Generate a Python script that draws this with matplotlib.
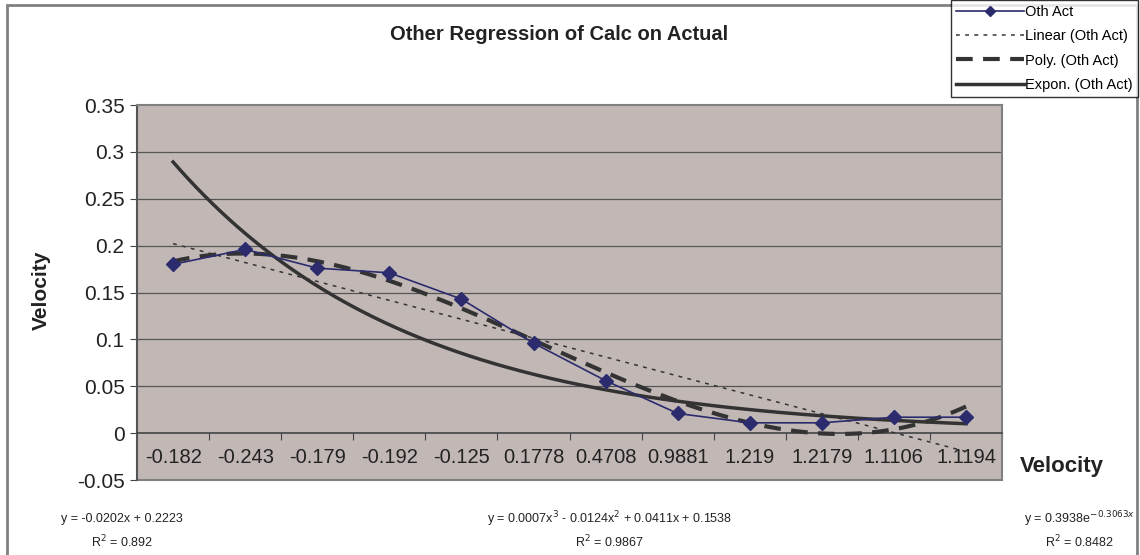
import numpy as np
import matplotlib.pyplot as plt
from matplotlib.lines import Line2D
from matplotlib.patches import Rectangle

plt.rcParams['font.family'] = ['Liberation Sans', 'DejaVu Sans']

# categories (shown as x tick labels) and the measured series
categories = ['-0.182', '-0.243', '-0.179', '-0.192', '-0.125', '0.1778',
              '0.4708', '0.9881', '1.219', '1.2179', '1.1106', '1.1194']
oth_act = [0.180, 0.196, 0.176, 0.171, 0.143, 0.096,
           0.056, 0.021, 0.011, 0.011, 0.017, 0.017]

y_ticks = [-0.05, 0, 0.05, 0.1, 0.15, 0.2, 0.25, 0.3, 0.35]
y_tick_labels = ['-0.05', '0', '0.05', '0.1', '0.15', '0.2', '0.25', '0.3', '0.35']

eq_linear = ('y = -0.0202x + 0.2223', 'R$^2$ = 0.892')
eq_poly = ('y = 0.0007x$^3$ - 0.0124x$^2$ + 0.0411x + 0.1538', 'R$^2$ = 0.9867')
eq_expon = ('y = 0.3938e$^{-0.3063x}$', 'R$^2$ = 0.8482')

plot_bg = '#c1b8b6'
dark = '#333333'
navy = '#2b2b6e'

fig = plt.figure(figsize=(11.4, 5.55), dpi=100)
ax = fig.add_axes([0.1202, 0.1351, 0.7588, 0.6757])
ax.set_facecolor(plot_bg)

# Excel style trendlines, x = 1..n
xs = np.arange(1, len(oth_act) + 1)
vals = np.array(oth_act)
xf = np.linspace(1, len(oth_act), 200)
lin = np.polyfit(xs, vals, 1)
poly = np.polyfit(xs, vals, 3)
expo = np.polyfit(xs, np.log(vals), 1)

pos = xs - 1
xfp = xf - 1
ax.plot(xfp, np.polyval(lin, xf), color=dark, lw=1.1, dashes=(2.5, 3.5), zorder=3)
ax.plot(xfp, np.polyval(poly, xf), color=dark, lw=3, dashes=(4, 2.5), zorder=3)
ax.plot(xfp, np.exp(np.polyval(expo, xf)), color=dark, lw=2.5, zorder=3)
ax.plot(pos, oth_act, color=navy, lw=1.2, marker='D', markersize=7,
        markerfacecolor=navy, markeredgecolor=navy, zorder=4)

ax.set_xlim(-0.5, len(categories) - 0.5)
ax.set_ylim(-0.05, 0.35)

# grid lines
for g in y_ticks[2:-1]:
    ax.axhline(g, color='#555555', lw=0.9, zorder=1)

for s in ['top', 'left', 'right']:
    ax.spines[s].set_color('#808080')
    ax.spines[s].set_linewidth(1.5)
ax.spines['left'].set_color('#555555')
ax.spines['bottom'].set_position(('data', 0))
ax.spines['bottom'].set_color('#444444')
ax.spines['bottom'].set_linewidth(1.2)
ax.add_patch(Rectangle((0, 0), 1, 0.001, transform=ax.transAxes, facecolor='none',
                       edgecolor='#808080', lw=1.5, clip_on=False))

ax.set_xticks(np.arange(-0.5, len(categories), 1))
ax.set_xticklabels([])
ax.set_xticks(pos, minor=True)
ax.set_xticklabels(categories, minor=True)
ax.tick_params(axis='x', which='major', direction='out', length=5, color='#444444')
ax.tick_params(axis='x', which='minor', length=0, pad=11, labelsize=14.5, labelcolor='#222222')

ax.set_yticks(y_ticks)
ax.set_yticklabels(y_tick_labels)
ax.tick_params(axis='y', direction='out', length=5, color='#444444', labelsize=15,
               labelcolor='#222222', pad=4)

fig.text(0.036, 0.477, 'Velocity', rotation=90, ha='center', va='center',
         fontsize=15, fontweight='bold', color='#222222')
fig.text(0.9315, 0.16, 'Velocity', ha='center', va='center',
         fontsize=16, fontweight='bold', color='#222222')
fig.text(0.49, 0.937, 'Other Regression of Calc on Actual', ha='center', va='center',
         fontsize=14.5, fontweight='bold', color='#222222')

# trendline equations
for xc, (eq, r2) in [(0.107, eq_linear), (0.535, eq_poly), (0.947, eq_expon)]:
    fig.text(xc, 0.064, eq, ha='center', va='center', fontsize=9, color='#222222')
    fig.text(xc, 0.024, r2, ha='center', va='center', fontsize=9, color='#222222')

# chart border
fig.patches.append(Rectangle((0.006, -0.01), 0.991, 1.001, transform=fig.transFigure,
                             facecolor='none', edgecolor='#808080', lw=2))

handles = [
    Line2D([], [], color=navy, lw=1.2, marker='D', markersize=5),
    Line2D([], [], color=dark, lw=1.1, dashes=(2.5, 3.5)),
    Line2D([], [], color=dark, lw=3, dashes=(4, 2.5)),
    Line2D([], [], color=dark, lw=2.5),
]
labels = ['Oth Act', 'Linear (Oth Act)', 'Poly. (Oth Act)', 'Expon. (Oth Act)']
leg = fig.legend(handles, labels, loc='upper right', bbox_to_anchor=(0.998, 1.0),
                 fontsize=10.5, frameon=True, fancybox=False, edgecolor='black',
                 handlelength=4.6, handletextpad=0.1, labelspacing=0.7,
                 borderpad=0.35, borderaxespad=0)
leg.get_frame().set_linewidth(1.0)

fig.savefig('out.png', dpi=100, facecolor='white')
